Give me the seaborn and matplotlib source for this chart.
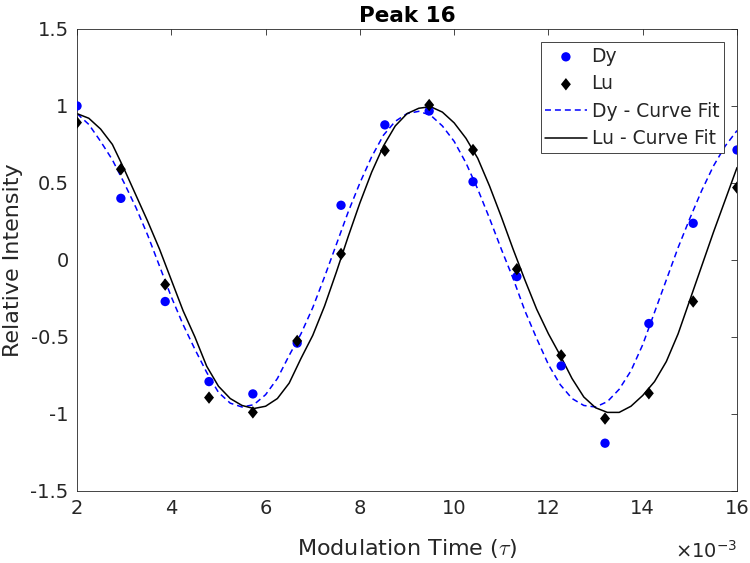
import numpy as np
import pandas as pd
import matplotlib
matplotlib.use("Agg")
import matplotlib.pyplot as plt
import seaborn as sns
from matplotlib.ticker import FuncFormatter

# ---------------------------------------------------------------------
# Data (modulation time in units of 1e-3)
# ---------------------------------------------------------------------
time_points = [2.0, 2.93, 3.87, 4.8, 5.73, 6.67, 7.6, 8.53, 9.47, 10.4,
               11.33, 12.27, 13.2, 14.13, 15.07, 16.0]
dy_points = [1.0, 0.40, -0.27, -0.79, -0.87, -0.54, 0.355, 0.877, 0.967, 0.508,
             -0.108, -0.688, -1.19, -0.413, 0.238, 0.714]
lu_points = [0.892, 0.589, -0.16, -0.894, -0.99, -0.526, 0.039, 0.71, 1.006, 0.714,
             -0.06, -0.62, -1.03, -0.866, -0.27, 0.47]

fit_time = [2.0, 2.25, 2.5, 2.75, 3.0, 3.25, 3.5, 3.75, 4.0, 4.25, 4.5, 4.75,
            5.0, 5.25, 5.5, 5.75, 6.0, 6.25, 6.5, 6.75, 7.0, 7.25, 7.5, 7.75,
            8.0, 8.25, 8.5, 8.75, 9.0, 9.25, 9.5, 9.75, 10.0, 10.25, 10.5, 10.75,
            11.0, 11.25, 11.5, 11.75, 12.0, 12.25, 12.5, 12.75, 13.0, 13.25, 13.5,
            13.75, 14.0, 14.25, 14.5, 14.75, 15.0, 15.25, 15.5, 15.75, 16.0]
dy_fit = [0.95, 0.88, 0.77, 0.65, 0.50, 0.34, 0.16, -0.04, -0.24, -0.42, -0.58, -0.73,
          -0.86, -0.93, -0.955, -0.94, -0.875, -0.77, -0.62, -0.48, -0.31, -0.11, 0.10, 0.31,
          0.50, 0.67, 0.81, 0.90, 0.95, 0.965, 0.94, 0.87, 0.77, 0.63, 0.46, 0.27,
          0.07, -0.12, -0.33, -0.51, -0.68, -0.81, -0.90, -0.945, -0.955, -0.92, -0.84,
          -0.72, -0.55, -0.34, -0.13, 0.08, 0.27, 0.45, 0.61, 0.74, 0.84]
lu_fit = [0.95, 0.92, 0.85, 0.75, 0.59, 0.42, 0.25, 0.07, -0.13, -0.33, -0.50, -0.69,
          -0.82, -0.90, -0.945, -0.965, -0.95, -0.90, -0.80, -0.64, -0.49, -0.30, -0.08, 0.15,
          0.37, 0.57, 0.74, 0.87, 0.95, 0.985, 0.995, 0.96, 0.89, 0.79, 0.66, 0.48,
          0.28, 0.07, -0.13, -0.32, -0.48, -0.62, -0.77, -0.89, -0.96, -0.99, -0.99,
          -0.95, -0.88, -0.79, -0.66, -0.48, -0.26, -0.04, 0.18, 0.39, 0.60]

pts = pd.DataFrame({"t": time_points, "Dy": dy_points, "Lu": lu_points})
fit = pd.DataFrame({"t": fit_time, "Dy": dy_fit, "Lu": lu_fit})

# ---------------------------------------------------------------------
# Style (MATLAB-like box axes)
# ---------------------------------------------------------------------
sns.set_style("white")
plt.rcParams["font.family"] = ["DejaVu Sans"]
plt.rcParams["axes.unicode_minus"] = False

axis_gray = "#262626"
diamond = [(0, 1), (0.8, 0), (0, -1), (-0.8, 0), (0, 1)]

fig = plt.figure(figsize=(7.5, 5.63), dpi=100)
ax = fig.add_axes([0.1027, 0.128, 0.88, 0.8206])

sns.scatterplot(data=pts, x="t", y="Dy", ax=ax, color="#0000ff", marker="o",
                s=45, edgecolor="none", label="Dy", zorder=3)
sns.scatterplot(data=pts, x="t", y="Lu", ax=ax, color="black", marker=diamond,
                s=80, edgecolor="none", label="Lu", zorder=3)
sns.lineplot(data=fit, x="t", y="Dy", ax=ax, color="#0000ff", linewidth=1.1,
             label="Dy - Curve Fit", zorder=2)
sns.lineplot(data=fit, x="t", y="Lu", ax=ax, color="black", linewidth=1.1,
             label="Lu - Curve Fit", zorder=2)
ax.lines[0].set_dashes((3.9, 2.6))

ax.set_xlim(2, 16)
ax.set_ylim(-1.5, 1.5)
ax.set_xticks(np.arange(2, 17, 2))
ax.set_yticks(np.arange(-1.5, 1.51, 0.5))
ax.yaxis.set_major_formatter(FuncFormatter(lambda v, p: f"{v:g}"))

for side in ["left", "right", "top", "bottom"]:
    ax.spines[side].set_visible(True)
    ax.spines[side].set_color(axis_gray)
    ax.spines[side].set_linewidth(0.6)
ax.tick_params(direction="in", length=4, width=0.6, color=axis_gray,
               labelsize=14, labelcolor=axis_gray, top=True, right=True, pad=6)

ax.set_title("Peak 16", fontsize=15.5, fontweight="bold", color="black", pad=5)
ax.set_xlabel(r"Modulation Time ($\tau$)", fontsize=16, color=axis_gray,
              math_fontfamily="cm")
ax.set_ylabel("Relative Intensity", fontsize=16, color=axis_gray)
ax.xaxis.set_label_coords(0.5, -0.1)
ax.yaxis.set_label_coords(-0.082, 0.5)
fig.text(0.983, 0.009, r"$\times$10$^{-3}$", fontsize=14, color=axis_gray,
         ha="right", va="baseline", math_fontfamily="dejavusans")

leg = ax.legend(loc="upper right", fontsize=13.5, frameon=True, fancybox=False,
                edgecolor=axis_gray, framealpha=1, handlelength=2.2,
                borderaxespad=0.7, labelspacing=0.45, handletextpad=0.27,
                borderpad=0.25)
leg.get_frame().set_linewidth(0.6)

fig.savefig("out.png", dpi=100, facecolor="white")
